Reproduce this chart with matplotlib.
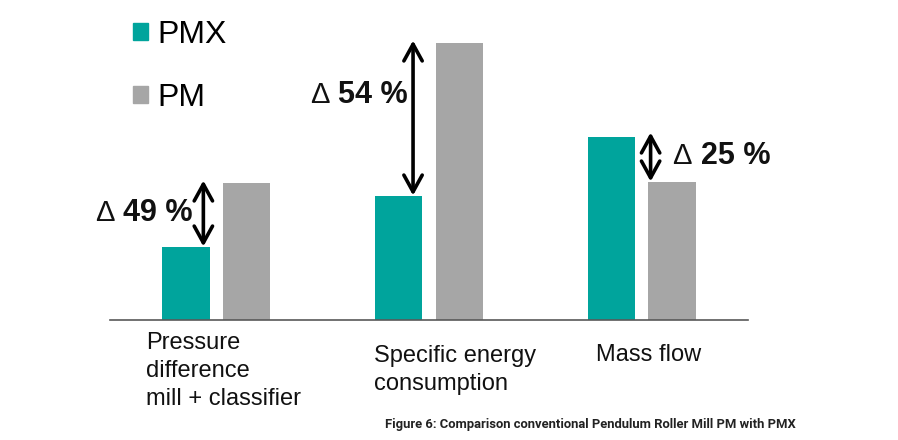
import matplotlib
matplotlib.use("Agg")
import matplotlib.pyplot as plt
from matplotlib.patches import Patch
import numpy as np

# ---- data (relative units) ----
categories = ["Pressure\ndifference\nmill + classifier",
              "Specific energy\nconsumption",
              "Mass flow"]
pmx_values = [73, 124, 183]
pm_values = [137, 277, 138]
delta_labels = ["49 %", "54 %", "25 %"]
series_names = ["PMX", "PM"]
caption = "Figure 6: Comparison conventional Pendulum Roller Mill PM with PMX"

TEAL = "#00A49C"
GREY = "#A6A6A6"

W, H = 898, 440
fig = plt.figure(figsize=(W / 100, H / 100), dpi=100)
fig.patch.set_facecolor("white")

# axes: baseline at y=319.5 px from top, 1 unit = 1 px vertically
base_px = 319.5
ax = fig.add_axes([110 / W, (H - base_px) / H, 638 / W, 300 / H])
ax.set_xlim(-0.5, 2.5)
ax.set_ylim(0, 300)
ax.axis("off")
ax.axhline(0, color="#595959", lw=1.2, xmin=0, xmax=1, clip_on=False, zorder=3)

FONT = ["Liberation Sans", "DejaVu Sans"]
x = np.arange(len(categories))
bw = 0.223
off = 0.143
ax.bar(x - off, pmx_values, bw, color=TEAL, zorder=2)
ax.bar(x + off, pm_values, bw, color=GREY, zorder=2)

# double arrows between the two bars
arrow_dx = [-0.061, -0.075, 0.042]
arrow_pad = [2, 2, 4]
for i in range(len(categories)):
    lo = min(pmx_values[i], pm_values[i])
    hi = max(pmx_values[i], pm_values[i])
    ax.annotate("", xy=(x[i] + arrow_dx[i], hi + arrow_pad[i]),
                xytext=(x[i] + arrow_dx[i], lo),
                arrowprops=dict(arrowstyle="<->,head_length=0.6,head_width=0.33",
                                lw=2.6, color="black", shrinkA=0, shrinkB=0,
                                mutation_scale=20),
                annotation_clip=False, zorder=4)

# delta labels
label_dx = [-0.437, -0.427, 0.277]
label_y = [106.5, 224.5, 163.5]
for i in range(len(categories)):
    ax.text(x[i] + label_dx[i], label_y[i], delta_labels[i], fontsize=22,
            fontweight="bold", family=FONT, ha="left", va="center",
            color="#111111", clip_on=False)
    ax.annotate("Δ", xy=(x[i] + label_dx[i], label_y[i]), xytext=(-9, 0),
                textcoords="offset pixels", fontsize=21, family=FONT,
                ha="right", va="center", color="#111111",
                annotation_clip=False)

# category labels (baseline of the last line)
cat_dx = [-0.329, -0.258, -0.216]
cat_y = [-85.5, -70.5, -41.5]
for i, c in enumerate(categories):
    ax.text(x[i] + cat_dx[i], cat_y[i], c, fontsize=17, family=FONT,
            ha="left", va="baseline", linespacing=1.36, color="#111111",
            clip_on=False)

# legend
handles = [Patch(color=TEAL), Patch(color=GREY)]
fig.legend(handles, series_names, loc="upper left",
           bbox_to_anchor=(133 / W, 1 - 20 / H), frameon=False,
           prop=dict(family=FONT, size=23), handlelength=0.47,
           handleheight=0.47, handletextpad=0.3, labelspacing=1.03,
           borderaxespad=0, borderpad=0)

fig.text(385 / W, 1 - 424.5 / H, caption, fontsize=9.4, fontweight="bold",
         family=["Roboto", "DejaVu Sans"],
         ha="left", va="center", color="#222222")

fig.savefig("out.png", dpi=100, facecolor="white")
